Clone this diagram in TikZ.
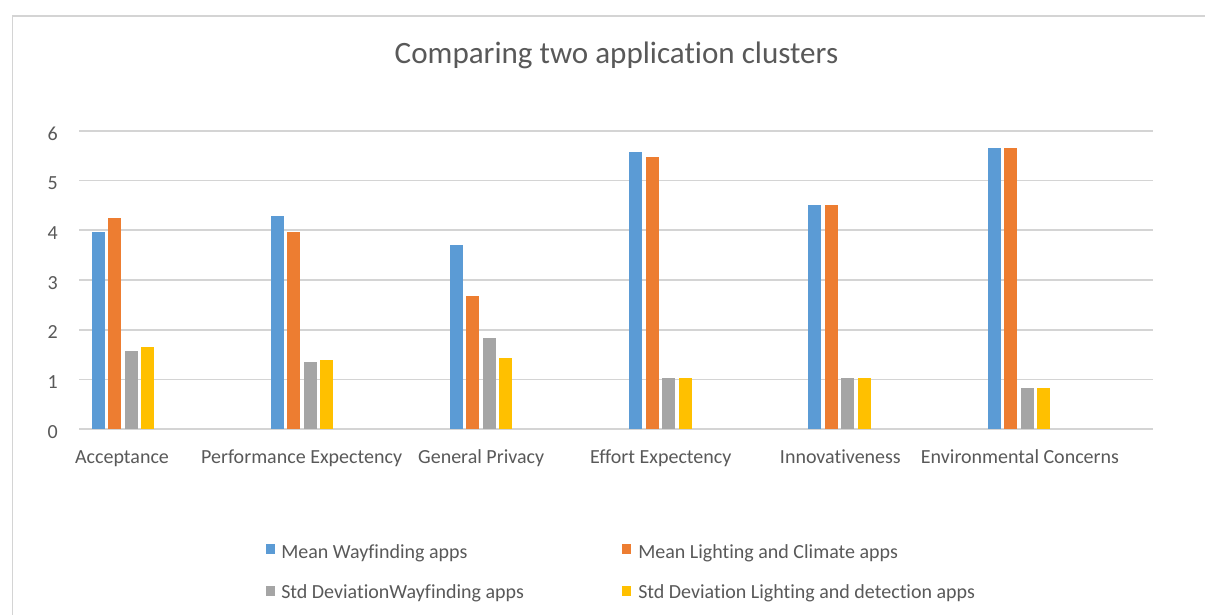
\documentclass[tikz,border=0pt]{standalone}
\usepackage{fontspec}
\setmainfont{Carlito}[RawFeature={-liga}]
\definecolor{serA}{HTML}{5B9BD5}
\definecolor{serB}{HTML}{ED7D31}
\definecolor{serC}{HTML}{A5A5A5}
\definecolor{serD}{HTML}{FFC000}
\definecolor{gridgray}{HTML}{D4D4D4}
\definecolor{txtgray}{HTML}{595959}
\tikzset{
  gridline/.style={draw=gridgray, line width=1.3pt},
  chartframe/.style={draw=gridgray, line width=1.3pt},
  lbl/.style={text=txtgray, font=\fontsize{15}{18}\selectfont, inner sep=0pt},
  ticklbl/.style={lbl, anchor=east},
  catlbl/.style={lbl, anchor=base},
  leglbl/.style={lbl, anchor=base west},
  legmark/.style={rectangle, minimum width=6.5pt, minimum height=7.5pt, inner sep=0pt},
  titlelbl/.style={text=txtgray, font=\fontsize{23.3}{27}\selectfont, inner sep=0pt, anchor=base}
}
\begin{document}
\begin{tikzpicture}[x=0.75pt,y=-0.75pt]
\useasboundingbox (0,0) rectangle (1205,614);
\clip (0,0) rectangle (1205,614);
\fill[white] (0,0) rectangle (1205,614);
% chart area border (runs past the page on the right and bottom)
\draw[chartframe] (12.5,16) rectangle (1230,650);

% title
\node[titlelbl] (title) at (616.5,63) {Comparing two application clusters};

% horizontal grid and value axis labels
\foreach \v in {0,...,6} {
  \draw[gridline] (79,{429.3-49.77*\v}) -- (1153,{429.3-49.77*\v});
  \node[ticklbl] (tick\v) at (58,{432-49.77*\v}) {\v};
}

% bars: category / mean wayfinding / mean lighting / sd wayfinding / sd lighting
\foreach \c/\a/\b/\g/\d in {0/3.97/4.24/1.57/1.66, 1/4.28/3.97/1.35/1.39,
    2/3.70/2.68/1.83/1.44, 3/5.57/5.48/1.04/1.04, 4/4.50/4.50/1.04/1.04,
    5/5.65/5.65/0.82/0.82} {
  \foreach \i/\val/\col in {0/\a/serA, 1/\b/serB, 2/\g/serC, 3/\d/serD} {
    \fill[\col] ({79+179.2*\c+12.5+16.5*\i},429.3) rectangle ++(13,{-49.77*\val});
  }
}

% category labels
\foreach \c/\name in {0/Acceptance, 1/Performance Expectency, 2/General Privacy,
    3/Effort Expectency, 4/Innovativeness, 5/Environmental Concerns} {
  \node[catlbl] (cat\c) at ({122+179.6*\c},463.3) {\name};
}

% legend
\node[legmark, fill=serA] (m1) at (270.5,549) {};
\node[leglbl] (l1) at (281,558) {Mean Wayfinding apps};
\node[legmark, fill=serB] (m2) at (626.5,549) {};
\node[leglbl] (l2) at (638,558) {Mean Lighting and Climate apps};
\node[legmark, fill=serC] (m3) at (270.5,591) {};
\node[leglbl] (l3) at (281,598.5) {Std DeviationWayfinding apps};
\node[legmark, fill=serD] (m4) at (626.5,591) {};
\node[leglbl] (l4) at (638,598.5) {Std Deviation Lighting and detection apps};
\end{tikzpicture}
\end{document}
